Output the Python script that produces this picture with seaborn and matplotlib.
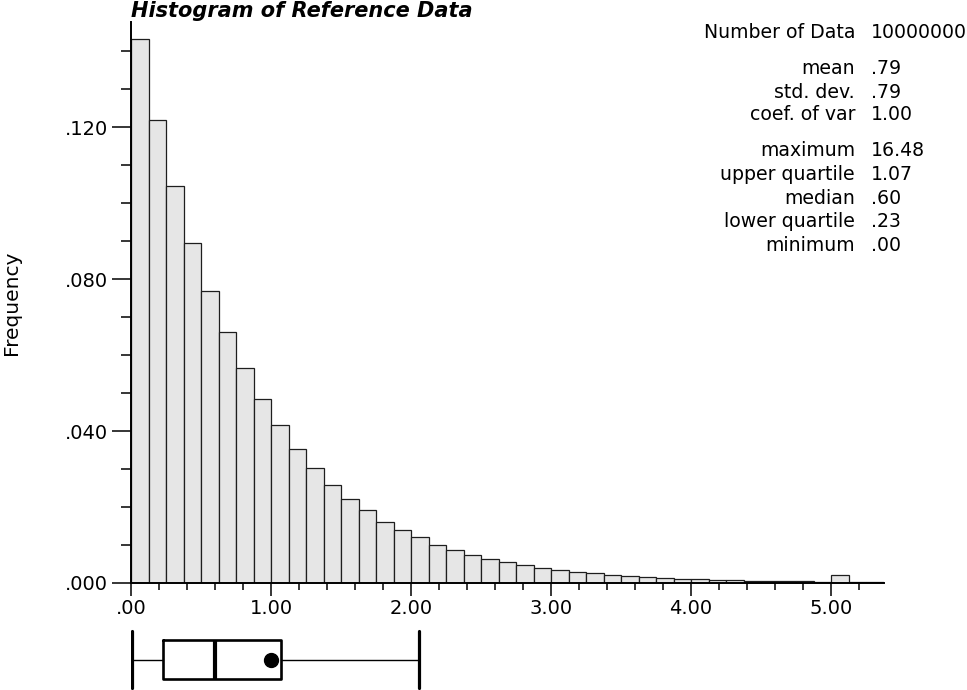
import numpy as np
import pandas as pd
import matplotlib
matplotlib.use("Agg")
import matplotlib.pyplot as plt
from matplotlib.ticker import MultipleLocator, FixedLocator
import seaborn as sns

# ---------------- data ----------------
bin_width = 0.125
bin_edges = [round(i * bin_width, 4) for i in range(44)]
frequencies = [
    0.1433, 0.1220, 0.1046, 0.0894, 0.0770, 0.0660, 0.0566, 0.0485, 0.0415, 0.0354,
    0.0303, 0.0259, 0.0222, 0.0191, 0.0160, 0.0139, 0.0120, 0.0101, 0.0087, 0.0073,
    0.0063, 0.0055, 0.0047, 0.0040, 0.0034, 0.0030, 0.0026, 0.0022, 0.0018, 0.0016,
    0.0014, 0.0011, 0.0010, 0.0008, 0.0007, 0.0006, 0.0005, 0.0005, 0.0004, 0.0003,
    0.0020, 0.0002, 0.0002,
]
x_ticks = [0, 1, 2, 3, 4, 5]
x_tick_labels = [".00", "1.00", "2.00", "3.00", "4.00", "5.00"]
y_ticks = [0.0, 0.04, 0.08, 0.12]
y_tick_labels = [".000", ".040", ".080", ".120"]

stat_labels = ["Number of Data", "mean", "std. dev.", "coef. of var",
               "maximum", "upper quartile", "median", "lower quartile", "minimum"]
stat_values = ["10000000", ".79", ".79", "1.00", "16.48", "1.07", ".60", ".23", ".00"]

box_low, box_q1, box_med, box_q3, box_high, box_mean = 0.01, 0.23, 0.60, 1.07, 2.06, 1.00

title = "Histogram of Reference Data"
ylabel = "Frequency"

# ---------------- figure ----------------
sns.set_style("ticks")
plt.rcParams["font.family"] = ["DejaVu Sans"]
plt.rcParams["text.color"] = "black"
plt.rcParams["axes.labelcolor"] = "black"
plt.rcParams["xtick.color"] = "black"
plt.rcParams["ytick.color"] = "black"
plt.rcParams["axes.edgecolor"] = "black"

W, H = 967, 690
fig = plt.figure(figsize=(W / 100, H / 100), dpi=100)

def fx(px):
    return px / W

def fy(py):
    return 1 - py / H

xmax = bin_edges[-1]
ymax = 0.1477
left_px, right_px = 131, 883.5
top_px, bottom_px = 22, 583

ax = fig.add_axes([fx(left_px), fy(bottom_px), fx(right_px - left_px), (bottom_px - top_px) / H])

centers = [(a + b) / 2 for a, b in zip(bin_edges[:-1], bin_edges[1:])]
df = pd.DataFrame({"x": centers, "w": frequencies})
sns.histplot(data=df, x="x", weights="w", bins=bin_edges, stat="count",
             color="#e6e6e6", edgecolor="#1e1e1e", linewidth=0.9, alpha=1.0, ax=ax)

ax.set_xlim(0, xmax)
ax.set_ylim(0, ymax)
ax.set_xlabel("")
ax.set_ylabel("")
for s in ["top", "right"]:
    ax.spines[s].set_visible(False)
for s in ["left", "bottom"]:
    ax.spines[s].set_linewidth(1.4)
    ax.spines[s].set_color("black")

ax.xaxis.set_major_locator(FixedLocator(x_ticks))
ax.set_xticklabels(x_tick_labels)
ax.xaxis.set_minor_locator(MultipleLocator(0.2))
ax.yaxis.set_major_locator(FixedLocator(y_ticks))
ax.set_yticklabels(y_tick_labels)
ax.yaxis.set_minor_locator(MultipleLocator(0.01))

ax.tick_params(axis="x", which="major", length=9.5, width=1.1, labelsize=14, pad=2,
               direction="out", colors="black")
ax.tick_params(axis="x", which="minor", length=5, width=1.1, direction="out", colors="black")
ax.tick_params(axis="y", which="major", length=13.5, width=1.1, labelsize=14, pad=3,
               direction="out", colors="black")
ax.tick_params(axis="y", which="minor", length=7, width=1.1, direction="out", colors="black")

# title and y label
fig.text(fx(131), fy(17), title, ha="left", va="baseline", fontsize=15,
         fontweight="bold", fontstyle="italic", color="black")
fig.text(fx(12), fy(303), ylabel, ha="center", va="center", rotation=90, fontsize=14.5,
         color="black")

# statistics block
row_y = [33, 69, 92, 115, 151, 174, 198, 222, 246]
for lab, val, yy in zip(stat_labels, stat_values, row_y):
    fig.text(fx(855), fy(yy), lab, ha="right", va="center", fontsize=13.6, color="black")
    fig.text(fx(871), fy(yy), val, ha="left", va="center", fontsize=13.6, color="black")

# box plot
bax = fig.add_axes([fx(left_px), 0, fx(right_px - left_px), 61 / H])
stats = [dict(whislo=box_low, q1=box_q1, med=box_med, q3=box_q3, whishi=box_high,
              mean=box_mean, fliers=[])]
bax.bxp(stats, positions=[0.5], widths=0.64, capwidths=0.92, vert=False,
        showmeans=True, showfliers=False,
        boxprops=dict(color="black", linewidth=1.9),
        medianprops=dict(color="black", linewidth=3.0),
        whiskerprops=dict(color="black", linewidth=1.0),
        capprops=dict(color="black", linewidth=2.3),
        meanprops=dict(marker="o", markerfacecolor="black", markeredgecolor="black",
                       markersize=10))
bax.set_xlim(0, xmax)
bax.set_ylim(1, 0)
bax.axis("off")

fig.savefig("out.png", dpi=100)
